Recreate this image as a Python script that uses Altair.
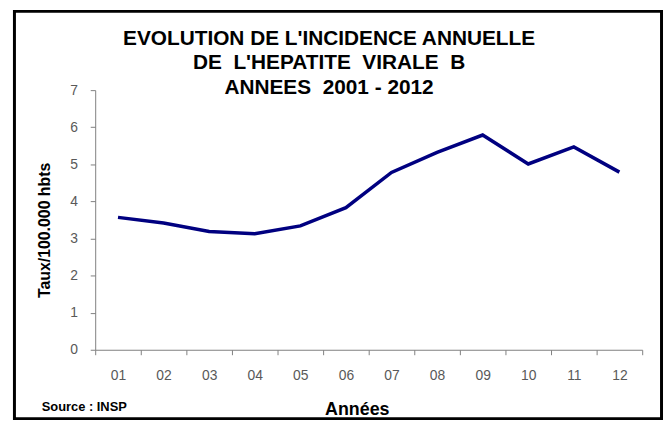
import altair as alt
import pandas as pd

years = ["01", "02", "03", "04", "05", "06", "07", "08", "09", "10", "11", "12"]
rates = [3.57, 3.42, 3.19, 3.13, 3.34, 3.83, 4.78, 5.32, 5.79, 5.01, 5.47, 4.79]
title_lines = [
    "EVOLUTION DE L'INCIDENCE ANNUELLE",
    "DE\u00a0 L'HEPATITE\u00a0 VIRALE\u00a0 B",
    "ANNEES\u00a0 2001 - 2012",
]
y_ticks = [0, 1, 2, 3, 4, 5, 6, 7]

df = pd.DataFrame({"annee": years, "taux": rates})
one = pd.DataFrame({"k": [0]})

FONT = "Liberation Sans"

line = alt.Chart(df).mark_line(color="#000080", strokeWidth=3.5).encode(
    x=alt.X(
        "annee:O",
        sort=years,
        scale=alt.Scale(type="band", paddingInner=0, paddingOuter=0),
        axis=alt.Axis(
            title="Années",
            titleX=264,
            titleY=65,
            titleBaseline="alphabetic",
            titleAlign="center",
            titleFontSize=18,
            titleFontWeight="bold",
            titleColor="#000000",
            titleFont=FONT,
            labelAngle=0,
            labelFontSize=14,
            labelColor="#595959",
            labelFont=FONT,
            labelPadding=14,
            tickSize=5,
            tickBand="extent",
            tickColor="#808080",
            domainColor="#808080",
            grid=False,
        ),
    ),
    y=alt.Y(
        "taux:Q",
        scale=alt.Scale(domain=[0, 7], nice=False),
        axis=alt.Axis(
            title="Taux/100.000 hbts",
            titleX=-51,
            titleY=141,
            titleAngle=270,
            titleAlign="center",
            titleBaseline="middle",
            titleFontSize=16,
            titleFontWeight="bold",
            titleColor="#000000",
            titleFont=FONT,
            values=y_ticks,
            labelFontSize=14,
            labelColor="#595959",
            labelFont=FONT,
            labelPadding=13,
            tickSize=5,
            tickColor="#808080",
            domainColor="#808080",
            grid=False,
        ),
    ),
)

title = alt.Chart(one).mark_text(
    text=title_lines,
    font=FONT,
    fontSize=21,
    fontWeight="bold",
    color="#000000",
    align="center",
    baseline="alphabetic",
    lineHeight=25,
).encode(x=alt.value(236), y=alt.value(-46))

source = alt.Chart(one).mark_text(
    text="Source : INSP",
    font=FONT,
    fontSize=13,
    fontWeight="bold",
    color="#000000",
    align="left",
    baseline="alphabetic",
).encode(x=alt.value(-54), y=alt.value(324))

frame = alt.Chart(one).mark_rect(
    filled=False, stroke="#000000", strokeWidth=3, clip=False
).encode(
    x=alt.value(-81.5), x2=alt.value(571.5), y=alt.value(-79.5), y2=alt.value(331.5)
)

chart = alt.layer(frame, line, title, source).properties(
    width=552,
    height=262,
    autosize=alt.AutoSizeParams(type="none"),
    padding={"left": 88, "top": 81, "right": 22, "bottom": 71},
    background="#ffffff",
).configure_view(stroke=None)

chart.save("out.html", embed_options={"renderer": "svg", "actions": False})
